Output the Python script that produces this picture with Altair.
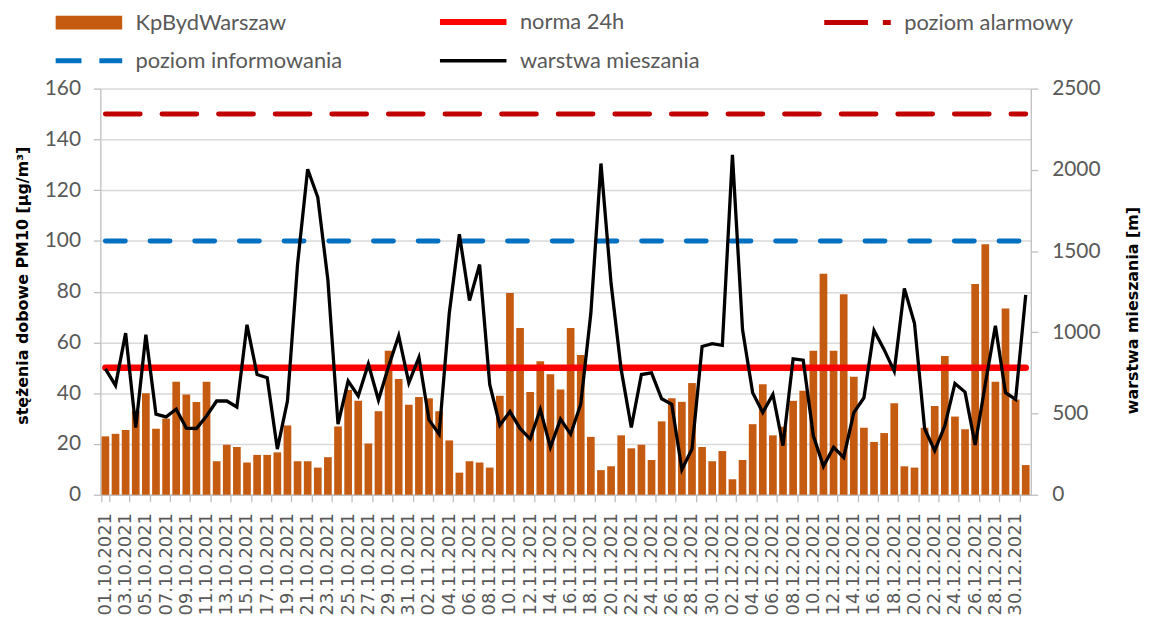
import altair as alt
import pandas as pd

# ---- categories ----
dates = ([f"{d:02d}.10.2021" for d in range(1, 32)]
         + [f"{d:02d}.11.2021" for d in range(1, 31)]
         + [f"{d:02d}.12.2021" for d in range(1, 32)])

# ---- series values ----
pm10 = [
    23, 24, 25.5, 33, 40, 26, 30, 44.5, 39.5, 36.5, 44.5, 13.2, 19.7, 18.8, 12.7, 15.7,
    15.7, 16.7, 27.3, 13.2, 13.2, 10.7, 14.8, 26.9, 41.3, 37, 20.2, 32.9, 56.7, 45.6, 35.5,
    38.5, 38, 32.9, 21.4, 8.7, 13.2, 12.7, 10.7, 39, 79.5, 65.7, 40.5, 52.6, 47.5, 41.5,
    65.7, 55.1, 22.8, 9.7, 11.2, 23.4, 18.3, 19.7, 13.7, 28.9, 38, 36.6, 44, 18.8, 13.2,
    17.2, 6.1, 13.7, 27.8, 43.5, 23.4, 26.8, 37, 41, 56.7, 87.1, 56.7, 79, 46.5, 26.4,
    20.8, 24.3, 36, 11.2, 10.7, 26.4, 35, 54.7, 30.8, 25.8, 83, 98.7, 44.5, 73.4, 37.5, 11.7,
]
mixing = [
    775, 673, 995, 414, 985, 496, 479, 526, 410, 408, 485, 577, 577, 540, 1046, 740,
    720, 281, 577, 1420, 2004, 1831, 1321, 434, 700, 608, 805, 583, 790, 979, 689,
    846, 461, 373, 1117, 1603, 1195, 1417, 679, 428, 512, 408, 343, 526, 292, 465,
    373, 557, 1117, 2039, 1300, 770, 414, 740, 750, 591, 557, 155, 281, 913, 930,
    920, 2092, 1015, 628, 506, 618, 302, 836, 828, 363, 175, 292, 230, 506, 597,
    1011, 893, 761, 1270, 1056, 408, 271, 424, 685, 632, 306, 680, 1040, 628, 587, 1230,
]
norma_24h = 50
poziom_informowania = 100
poziom_alarmowy = 150

series_order = ["KpBydWarszaw", "norma 24h", "poziom alarmowy", "poziom informowania", "warstwa mieszania"]
series_colors = ["#C55A11", "#FF0000", "#C00000", "#0070C0", "#000000"]

df_bar = pd.DataFrame({"date": dates, "value": pm10, "series": "KpBydWarszaw"})
df_lim = pd.concat([
    pd.DataFrame({"date": dates, "value": [norma_24h] * len(dates), "series": "norma 24h"}),
    pd.DataFrame({"date": dates, "value": [poziom_alarmowy] * len(dates), "series": "poziom alarmowy"}),
    pd.DataFrame({"date": dates, "value": [poziom_informowania] * len(dates), "series": "poziom informowania"}),
])
df_mix = pd.DataFrame({"date": dates, "value": mixing, "series": "warstwa mieszania"})

GRAY_TXT = "#595959"
AXIS_GRAY = "#BFBFBF"
TICK_FONT = "Lato"


def pick(*pairs, default):
    expr = default
    for name, val in reversed(pairs):
        expr = f"datum.value === '{name}' ? {val} : ({expr})"
    return alt.ExprRef(expr=expr)


legend = alt.Legend(
    orient="none", direction="horizontal", legendX=-22.5, legendY=-78, title=None, columns=3,
    gridAlign="all", columnPadding=85, rowPadding=16, padding=0, symbolSize=100, labelOffset=36,
    labelFont=TICK_FONT, labelFontSize=22, labelColor=GRAY_TXT, labelLimit=400,
    symbolType=pick(("KpBydWarszaw", "'M-6.7,-1.4H6.7V1.4H-6.7Z'"), default="'M-6.7,0H6.7'"),
    symbolFillColor=pick(("KpBydWarszaw", "'#C55A11'"), default="'transparent'"),
    symbolStrokeColor=pick(("KpBydWarszaw", "'#C55A11'"), ("norma 24h", "'#FF0000'"),
                           ("poziom alarmowy", "'#C00000'"), ("poziom informowania", "'#0070C0'"),
                           default="'#000000'"),
    symbolStrokeWidth=pick(("KpBydWarszaw", "0"), ("norma 24h", "6"), ("warstwa mieszania", "3.5"),
                           default="5"),
    symbolDash=pick(("poziom alarmowy", "[44, 15]"), ("poziom informowania", "[26, 18]"),
                    default="[1, 0]"),
    symbolOpacity=1,
)

color = alt.Color("series:N", scale=alt.Scale(domain=series_order, range=series_colors), legend=legend)

x = alt.X(
    "date:N", sort=dates, title=None,
    scale=alt.Scale(paddingInner=0.24, paddingOuter=0.12),
    axis=alt.Axis(values=dates[::2], labelAngle=270, labelAlign="right", labelBaseline="middle",
                  labelFont="DejaVu Sans", labelFontSize=18, labelColor=GRAY_TXT, labelPadding=11,
                  labelOverlap=False, tickSize=7, tickColor=AXIS_GRAY, tickWidth=1.3,
                  domainColor=AXIS_GRAY, domainWidth=1.3, tickBand="extent", grid=False),
)

y_left = alt.Y(
    "value:Q", scale=alt.Scale(domain=[0, 160], nice=False),
    axis=alt.Axis(values=list(range(0, 161, 20)), title="stężenia dobowe PM10 [µg/m³]",
                  titleFont="DejaVu Sans", titleFontSize=16, titleFontWeight="bold", titleColor="#000000",
                  titleAngle=270, titleX=-78, titleY=198, titleAlign="center", titleBaseline="middle",
                  labelFont=TICK_FONT, labelFontSize=21, labelColor=GRAY_TXT, labelPadding=13,
                  tickSize=7, tickColor=AXIS_GRAY, tickWidth=1.3, domainColor=AXIS_GRAY, domainWidth=1.3,
                  gridColor="#D9D9D9", gridWidth=1.5),
)

y_right = alt.Y(
    "value:Q", scale=alt.Scale(domain=[0, 2500], nice=False),
    axis=alt.Axis(orient="right", values=list(range(0, 2501, 500)), format="d",
                  title="warstwa mieszania [m]",
                  titleFont="DejaVu Sans", titleFontSize=16, titleFontWeight="bold", titleColor="#000000",
                  titleAngle=270, titleX=102, titleY=223, titleAlign="center", titleBaseline="middle",
                  labelFont=TICK_FONT, labelFontSize=21, labelColor=GRAY_TXT, labelPadding=14,
                  tickSize=7, tickColor=AXIS_GRAY, tickWidth=1.3, domainColor=AXIS_GRAY, domainWidth=1.3,
                  grid=False),
)

bars = alt.Chart(df_bar).mark_bar().encode(x=x, y=y_left, color=color)

line_styles = {
    "norma 24h": dict(strokeWidth=6.5, strokeCap="round"),
    "poziom alarmowy": dict(strokeWidth=5, strokeCap="round", strokeDash=[35, 22]),
    "poziom informowania": dict(strokeWidth=5, strokeCap="round", strokeDash=[20, 25]),
}
limit_layers = [
    alt.Chart(df_lim).transform_filter(alt.datum.series == name)
    .mark_line(**style).encode(x=x, y=y_left, color=color)
    for name, style in line_styles.items()
]

mix = alt.Chart(df_mix).mark_line(strokeWidth=3.3).encode(x=x, y=y_right, color=color)

chart = (
    alt.layer(alt.layer(bars, *limit_layers), mix)
    .resolve_scale(y="independent")
    .properties(width=937, height=409,
                padding={"left": 93, "top": 79, "right": 112, "bottom": 130},
                autosize=alt.AutoSizeParams(type="none"))
    .configure_view(strokeWidth=0)
)

chart.save("out.html", embed_options={"renderer": "svg", "actions": False})
